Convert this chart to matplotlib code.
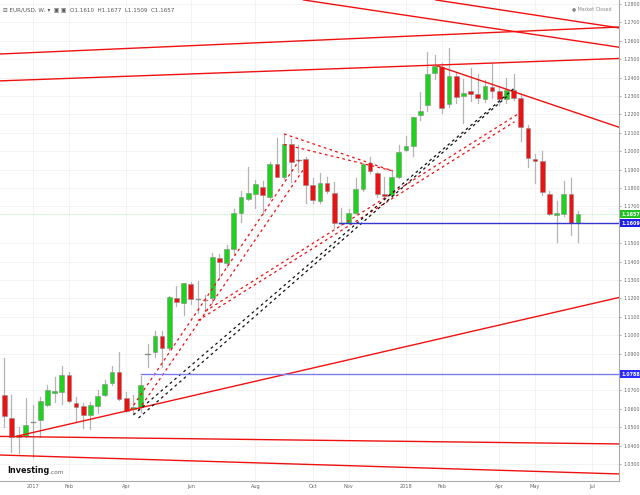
import numpy as np
import pandas as pd
import matplotlib
matplotlib.use("Agg")
import matplotlib.pyplot as plt
import matplotlib.dates as mdates
import matplotlib.transforms as mtransforms
from matplotlib.patches import Rectangle

# weekly EUR/USD candles, first week starting 2016-12-04
opens = [1.0675, 1.0551, 1.0445, 1.0452, 1.0525, 1.0539, 1.0618, 1.0686, 1.0693, 1.0783,
         1.0633, 1.0615, 1.0564, 1.0615, 1.0673, 1.0738, 1.0798, 1.0658, 1.0597, 1.0610,
         1.0895, 1.0910, 1.0996, 1.0928, 1.1200, 1.1177, 1.1278, 1.1195, 1.1199, 1.1200,
         1.1418, 1.1395, 1.1467, 1.1662, 1.1740, 1.1767, 1.1807, 1.1753, 1.1929, 1.1862,
         1.2039, 1.1950, 1.1956, 1.1816, 1.1730, 1.1825, 1.1774, 1.1610, 1.1608, 1.1665,
         1.1793, 1.1934, 1.1879, 1.1770, 1.1760, 1.1858, 1.2004, 1.2029, 1.2196, 1.2250,
         1.2425, 1.2455, 1.2259, 1.2408, 1.2300, 1.2327, 1.2313, 1.2285, 1.2351, 1.2327,
         1.2282, 1.2332, 1.2291, 1.2124, 1.1956, 1.1947, 1.1765, 1.1651, 1.1658, 1.1767,
         1.1610]
highs = [1.0874, 1.0675, 1.0503, 1.0657, 1.0620, 1.0666, 1.0729, 1.0774, 1.0834, 1.0802,
         1.0666, 1.0633, 1.0638, 1.0702, 1.0756, 1.0834, 1.0907, 1.0693, 1.0675, 1.0780,
         1.0952, 1.1025, 1.1025, 1.1213, 1.1267, 1.1282, 1.1290, 1.1294, 1.1216, 1.1448,
         1.1439, 1.1490, 1.1684, 1.1785, 1.1916, 1.1844, 1.1840, 1.1943, 1.2070, 1.2094,
         1.2065, 1.2034, 1.1970, 1.1852, 1.1880, 1.1861, 1.1834, 1.1693, 1.1688, 1.1852,
         1.1937, 1.1966, 1.1888, 1.1861, 1.1898, 1.2033, 1.2085, 1.2187, 1.2323, 1.2541,
         1.2523, 1.2477, 1.2559, 1.2430, 1.2391, 1.2450, 1.2418, 1.2387, 1.2478, 1.2351,
         1.2400, 1.2418, 1.2310, 1.2140, 1.1983, 1.2001, 1.1785, 1.1729, 1.1840, 1.1856,
         1.1677]
lows = [1.0503, 1.0367, 1.0358, 1.0448, 1.0340, 1.0448, 1.0615, 1.0638, 1.0626, 1.0638,
        1.0535, 1.0493, 1.0490, 1.0575, 1.0669, 1.0729, 1.0648, 1.0584, 1.0575, 1.0580,
        1.0825, 1.0881, 1.0829, 1.0919, 1.1159, 1.1110, 1.1169, 1.1122, 1.1130, 1.1177,
        1.1303, 1.1371, 1.1439, 1.1617, 1.1735, 1.1690, 1.1659, 1.1738, 1.1858, 1.1847,
        1.1835, 1.1889, 1.1716, 1.1720, 1.1716, 1.1771, 1.1581, 1.1598, 1.1602, 1.1658,
        1.1785, 1.1880, 1.1752, 1.1752, 1.1750, 1.1852, 1.2000, 1.1974, 1.2170, 1.2220,
        1.2390, 1.2209, 1.2241, 1.2264, 1.2155, 1.2275, 1.2260, 1.2265, 1.2290, 1.2250,
        1.2260, 1.2280, 1.2057, 1.1916, 1.1829, 1.1760, 1.1653, 1.1508, 1.1650, 1.1544,
        1.1509]
closes = [1.0560, 1.0448, 1.0455, 1.0512, 1.0530, 1.0642, 1.0702, 1.0697, 1.0783, 1.0642,
          1.0611, 1.0564, 1.0620, 1.0669, 1.0735, 1.0798, 1.0651, 1.0590, 1.0611, 1.0727,
          1.0898, 1.0996, 1.0933, 1.1206, 1.1182, 1.1282, 1.1197, 1.1197, 1.1194, 1.1427,
          1.1400, 1.1467, 1.1662, 1.1753, 1.1775, 1.1822, 1.1762, 1.1929, 1.1862, 1.2037,
          1.1943, 1.1954, 1.1816, 1.1735, 1.1825, 1.1785, 1.1611, 1.1612, 1.1666, 1.1794,
          1.1930, 1.1894, 1.1766, 1.1756, 1.1858, 1.1997, 1.2029, 1.2187, 1.2221, 1.2422,
          1.2464, 1.2236, 1.2408, 1.2296, 1.2318, 1.2311, 1.2291, 1.2354, 1.2327, 1.2285,
          1.2333, 1.2291, 1.2133, 1.1961, 1.1947, 1.1780, 1.1657, 1.1662, 1.1767, 1.1608,
          1.1657]
weeks = pd.date_range("2016-12-04", periods=len(opens), freq="7D")

# drawn trend lines: (start date, start price, end date, end price)
solid_lines = [
    ("2016-11-29", 1.2528, "2018-07-27", 1.2675),
    ("2016-11-29", 1.2382, "2018-07-27", 1.2504),
    ("2017-09-22", 1.2822, "2018-07-27", 1.2565),
    ("2018-01-29", 1.2822, "2018-07-27", 1.2670),
    ("2018-01-31", 1.2463, "2018-07-27", 1.2130),
    ("2016-12-17", 1.0452, "2018-07-27", 1.1205),
    ("2016-11-29", 1.0450, "2018-07-27", 1.0409),
    ("2016-11-29", 1.0349, "2018-07-27", 1.0246),
]
red_dashed = [
    ("2017-04-06", 1.0593, "2017-09-18", 1.1952),
    ("2017-04-14", 1.0593, "2017-09-23", 1.1909),
    ("2017-09-03", 1.2094, "2017-12-18", 1.1893),
    ("2017-09-03", 1.2037, "2017-12-18", 1.1893),
    ("2017-06-18", 1.1130, "2018-04-21", 1.2208),
    ("2017-06-11", 1.1080, "2018-04-16", 1.2160),
]
black_dashed = [
    ("2017-04-09", 1.0567, "2018-04-16", 1.2344),
    ("2017-04-14", 1.0550, "2018-04-09", 1.2300),
]
levels_blue = [("2017-04-16", 1.0788, "#7b7bf0", "#2b2bff"),
               ("2017-10-27", 1.1609, "#3535d0", "#1f1fe6")]
last_price = 1.1657

xtick_dates = ["2017-01-01", "2017-02-05", "2017-04-02", "2017-06-04", "2017-08-06",
               "2017-10-01", "2017-11-05", "2017-12-31", "2018-02-04", "2018-04-01",
               "2018-05-06", "2018-07-01"]
xtick_labels = ["2017", "Feb", "Apr", "Jun", "Aug", "Oct", "Nov", "2018", "Feb", "Apr",
                "May", "Jul"]

plt.rcParams['font.family'] = ['DejaVu Sans']

fig = plt.figure(figsize=(6.4, 4.95), dpi=100)
ax = fig.add_axes([0.0, 14 / 495, 619 / 640, 481 / 495])

xd = mdates.date2num(weeks)
d0 = mdates.date2num(pd.Timestamp("2017-01-01"))
ax.set_xlim(d0 - 32.2, d0 + 571.9)
ax.set_ylim(1.02076, 1.28217)

ax.grid(True, color="#f1f1f1", linewidth=0.6)
ax.set_axisbelow(True)

w = 4.6
for x, o, h, l, c in zip(xd, opens, highs, lows, closes):
    ax.plot([x, x], [l, h], color="#b4b4b4", linewidth=0.9, zorder=2)
    if abs(c - o) < 0.0006:
        col = "#8f8f8f" if c >= o else "#c77"
        ax.plot([x - w / 2, x + w / 2], [c, c], color=col, linewidth=1.0, zorder=3)
        continue
    col = "#1ed31e" if c > o else "#ee1111"
    ax.add_patch(Rectangle((x - w / 2, min(o, c)), w, abs(c - o), facecolor=col,
                           edgecolor="#8a8a8a", linewidth=0.4, zorder=3))

def to_num(d):
    return mdates.date2num(pd.Timestamp(d))

for d1, p1, d2, p2 in solid_lines:
    ax.plot([to_num(d1), to_num(d2)], [p1, p2], color="#f01010", linewidth=1.0, zorder=4)
for d1, p1, d2, p2 in red_dashed:
    ax.plot([to_num(d1), to_num(d2)], [p1, p2], color="#f01010", linewidth=0.9,
            dashes=(2.2, 2.6), zorder=4)
for d1, p1, d2, p2 in black_dashed:
    ax.plot([to_num(d1), to_num(d2)], [p1, p2], color="#111111", linewidth=0.9,
            dashes=(2.2, 2.6), zorder=4)

right = to_num("2018-07-27")
for d, p, lc, bc in levels_blue:
    ax.plot([to_num(d), right], [p, p], color=lc, linewidth=1.0, zorder=4)
ax.axhline(last_price, color="#a8e8a8", linewidth=0.6, linestyle=(0, (1, 1)), zorder=1)

# axes styling
for s in ["top", "left"]:
    ax.spines[s].set_visible(False)
for s in ["right", "bottom"]:
    ax.spines[s].set_color("#aaaaaa")
    ax.spines[s].set_linewidth(0.8)
ax.yaxis.tick_right()
yt = [round(v, 2) for v in np.arange(1.03, 1.2801, 0.01)]
yt = [v for v in yt if v not in (1.08, 1.16)]
ax.set_yticks(yt)
ax.set_yticklabels(["%.4f" % v for v in yt])
ax.tick_params(axis="y", labelsize=3.4, colors="#666666", length=1.5, width=0.4, pad=1.5)
ax.set_xticks([to_num(d) for d in xtick_dates])
ax.set_xticklabels(xtick_labels)
ax.tick_params(axis="x", labelsize=3.6, colors="#666666", length=0, pad=2.5)

trans = mtransforms.blended_transform_factory(ax.transAxes, ax.transData)
for d, p, lc, bc in levels_blue:
    ax.text(1.004, p, "%.4f" % p, transform=trans, fontsize=3.5, color="white",
            va="center", ha="left", fontweight="bold",
            bbox=dict(boxstyle="square,pad=0.3", facecolor=bc, edgecolor="none"))
ax.text(1.004, last_price, "%.4f" % last_price, transform=trans, fontsize=3.5,
        color="white", va="center", ha="left", fontweight="bold",
        bbox=dict(boxstyle="square,pad=0.3", facecolor="#22c022", edgecolor="none"))

# header and logo
fig.text(0.004, 0.981, "⊟ EUR/USD, W, ▾  ▣ ▣  O1.1610  H1.1677  L1.1509  C1.1657",
         fontsize=4.1, color="#555555", va="center", ha="left")
fig.text(0.894, 0.983, "● Market Closed", fontsize=3.4, color="#888888",
         va="center", ha="left")
fig.text(0.011, 0.049, "Investing", fontsize=5.8, fontweight="bold", color="#111111",
         va="center", ha="left")
fig.text(0.077, 0.046, ".com", fontsize=4.2, color="#666666", va="center", ha="left")

fig.savefig("out.png", dpi=100)
